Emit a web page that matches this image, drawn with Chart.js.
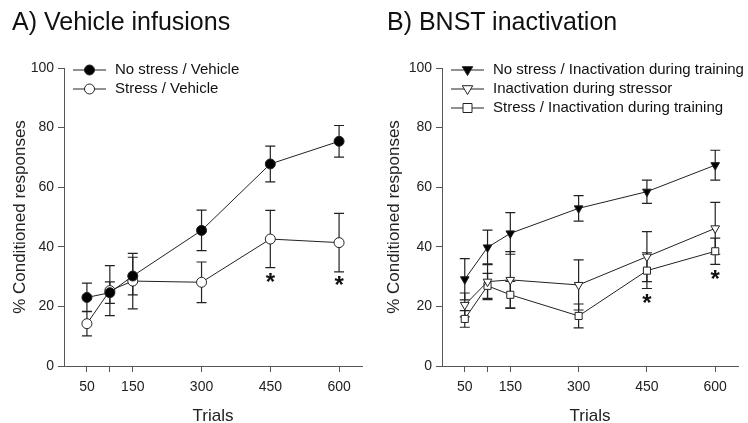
<!DOCTYPE html>
<html lang="en">
<head>
  <meta charset="UTF-8">
  <title>Conditioned responses</title>
  <script src="https://cdn.jsdelivr.net/npm/chart.js"></script>
  <style>
    body { margin: 0; background: white; font-family: "Liberation Sans", Arial, sans-serif; overflow: hidden; }
    .panel { position: absolute; top: 0; width: 374px; height: 423px; }
    #panelA { left: 0; }
    #panelB { left: 374px; }
    .title { position: absolute; top: 7px; font-size: 25px; color: #111; white-space: nowrap; }
  </style>
</head>
<body>
  <div class="panel" id="panelA">
    <canvas id="chartA" width="374" height="423"></canvas>
    <div class="title" style="left:12px">A) Vehicle infusions</div>
  </div>
  <div class="panel" id="panelB">
    <canvas id="chartB" width="374" height="423"></canvas>
    <div class="title" style="left:13px">B) BNST inactivation</div>
  </div>
  <script>
    // trials (x values) and tick labels
    const trials = [50, 100, 150, 300, 450, 600];
    const tickValues = [50, 100, 150, 300, 450, 600];
    const tickLabels = ['50', '', '150', '300', '450', '600'];

    // panel A
    const noStressVeh = [23, 24.6, 30.2, 45.5, 67.8, 75.4];
    const noStressVehErr = [4.8, 3.6, 6.3, 6.8, 6, 5.3];
    const stressVeh = [14.2, 25.3, 28.5, 28.1, 42.6, 41.4];
    const stressVehErr = [4.1, 8.4, 9.3, 6.8, 9.6, 9.8];
    const starsA = [[450, 29], [600, 28]];

    // panel B
    const noStressInact = [29.1, 39.8, 44.5, 52.9, 58.5, 67.4];
    const noStressInactErr = [6.9, 5.8, 7, 4.3, 3.9, 5];
    const inactStressor = [20.5, 28.3, 28.9, 27.2, 36.7, 46.2];
    const inactStressorErr = [4, 6, 9.5, 8.4, 8.4, 8.7];
    const stressInact = [15.8, 26.9, 23.9, 16.8, 32, 38.5];
    const stressInactErr = [2.8, 4.2, 4.5, 4, 6, 4.4];
    const starsB = [[450, 22], [600, 30]];

    const ink = '#222';
    const axisColor = '#555';
    const fam = '"Liberation Sans", Arial, sans-serif';

    function pts(ys) { return trials.map((x, i) => ({ x: x, y: ys[i] })); }

    function series(label, ys, errs, style, filled, rot) {
      return {
        label: label, data: pts(ys), errs: errs,
        borderColor: ink, borderWidth: 1, showLine: true,
        pointStyle: style, pointRotation: rot || 0,
        pointRadius: 5,
        pointBackgroundColor: filled ? '#000' : '#fff',
        pointBorderColor: ink, pointBorderWidth: 1,
        fill: false, tension: 0
      };
    }

    const errorBars = {
      id: 'errorBars',
      beforeDatasetsDraw(chart) {
        const ctx = chart.ctx, xs = chart.scales.x, ys = chart.scales.y;
        ctx.save();
        ctx.strokeStyle = ink;
        ctx.lineWidth = 1.2;
        chart.data.datasets.forEach(ds => {
          ds.data.forEach((p, i) => {
            const e = ds.errs[i];
            const px = xs.getPixelForValue(p.x);
            const top = ys.getPixelForValue(p.y + e);
            const bot = ys.getPixelForValue(p.y - e);
            ctx.beginPath();
            ctx.moveTo(px, top); ctx.lineTo(px, bot);
            ctx.moveTo(px - 5, top); ctx.lineTo(px + 5, top);
            ctx.moveTo(px - 5, bot); ctx.lineTo(px + 5, bot);
            ctx.stroke();
          });
        });
        ctx.restore();
      }
    };

    function marker(ctx, style, filled, rot, x, y) {
      ctx.fillStyle = filled ? '#000' : '#fff';
      ctx.strokeStyle = ink;
      ctx.lineWidth = 1;
      ctx.beginPath();
      if (style === 'circle') {
        ctx.arc(x, y, 5, 0, Math.PI * 2);
      } else if (style === 'rect') {
        ctx.rect(x - 4.5, y - 4.5, 9, 9);
      } else {
        const r = 5.5, s = rot ? -1 : 1;
        ctx.moveTo(x, y - s * r);
        ctx.lineTo(x + r * 0.95, y + s * r * 0.6);
        ctx.lineTo(x - r * 0.95, y + s * r * 0.6);
        ctx.closePath();
      }
      ctx.fill();
      ctx.stroke();
    }

    const extras = {
      id: 'extras',
      afterDraw(chart, args, opts) {
        const ctx = chart.ctx, xs = chart.scales.x, ys = chart.scales.y;
        ctx.save();
        // legend
        ctx.font = '15px ' + fam;
        ctx.textBaseline = 'middle';
        chart.data.datasets.forEach((ds, i) => {
          const y = 70 + i * 19;
          const x0 = opts.legendX;
          ctx.strokeStyle = ink; ctx.lineWidth = 1;
          ctx.beginPath(); ctx.moveTo(x0, y); ctx.lineTo(x0 + 33, y); ctx.stroke();
          marker(ctx, ds.pointStyle, ds.pointBackgroundColor === '#000', ds.pointRotation, x0 + 16.5, y);
          ctx.fillStyle = '#111';
          ctx.fillText(ds.label, x0 + 42, y);
        });
        // significance stars
        ctx.font = 'bold 24px ' + fam;
        ctx.textAlign = 'center';
        ctx.fillStyle = '#111';
        opts.stars.forEach(s => {
          ctx.fillText('*', xs.getPixelForValue(s[0]), ys.getPixelForValue(s[1]) + 4);
        });
        ctx.restore();
      }
    };

    function makeChart(id, datasets, stars, legendX, yWidth, rightPad) {
      return new Chart(document.getElementById(id), {
        type: 'scatter',
        data: { datasets: datasets },
        options: {
          responsive: false,
          animation: false,
          layout: { padding: { left: 0, right: rightPad, top: 68, bottom: -4 } },
          plugins: {
            legend: { display: false },
            tooltip: { enabled: false },
            extras: { stars: stars, legendX: legendX }
          },
          scales: {
            x: {
              type: 'linear', min: 0, max: 650,
              afterBuildTicks(scale) { scale.ticks = tickValues.map(v => ({ value: v })); },
              afterFit(scale) { scale.height = 61; },
              ticks: {
                autoSkip: false, maxRotation: 0, padding: 7,
                color: '#222', font: { size: 14, family: fam },
                callback: (v) => tickLabels[tickValues.indexOf(v)]
              },
              grid: { drawOnChartArea: false, drawTicks: true, tickLength: 6, color: axisColor },
              border: { display: true, color: axisColor, width: 1 },
              title: {
                display: true, text: 'Trials', color: '#222', padding: { top: 16, bottom: 0 },
                font: { size: 17, family: fam }
              }
            },
            y: {
              min: 0, max: 100,
              afterFit(scale) { scale.width = yWidth; },
              ticks: {
                stepSize: 20, padding: 4, color: '#222',
                font: { size: 14, family: fam }
              },
              grid: { drawOnChartArea: false, drawTicks: true, tickLength: 6, color: axisColor },
              border: { display: true, color: axisColor, width: 1 },
              title: {
                display: true, text: '% Conditioned responses', color: '#222', padding: { top: 10, bottom: 2 },
                font: { size: 17, family: fam }
              }
            }
          }
        },
        plugins: [errorBars, extras]
      });
    }

    makeChart('chartA', [
      series('No stress / Vehicle', noStressVeh, noStressVehErr, 'circle', true),
      series('Stress / Vehicle', stressVeh, stressVehErr, 'circle', false)
    ], starsA, 73, 64, 12);

    makeChart('chartB', [
      series('No stress / Inactivation during training', noStressInact, noStressInactErr, 'triangle', true, 180),
      series('Inactivation during stressor', inactStressor, inactStressorErr, 'triangle', false, 180),
      series('Stress / Inactivation during training', stressInact, stressInactErr, 'rect', false)
    ], starsB, 77, 68, 10);
  </script>
</body>
</html>
